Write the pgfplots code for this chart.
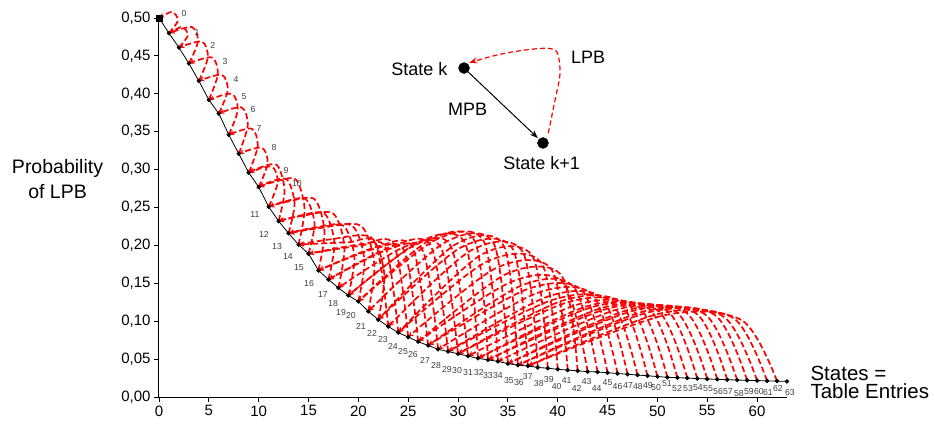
\documentclass[border=0pt]{standalone}
\usepackage{fontspec}
\setmainfont{Liberation Sans}
\usepackage{pgfplots}
\usepackage{pgfplotstable}
\pgfplotsset{compat=1.18}
\usetikzlibrary{arrows.meta}
\definecolor{lblgray}{RGB}{64,64,64}

\pgfplotstableread{
k p
0 0.500
1 0.480
2 0.461
3 0.440
4 0.417
5 0.392
6 0.374
7 0.346
8 0.321
9 0.296
10 0.277
11 0.251
12 0.232
13 0.216
14 0.201
15 0.189
16 0.167
17 0.155
18 0.144
19 0.134
20 0.126
21 0.113
22 0.102
23 0.093
24 0.085
25 0.079
26 0.073
27 0.068
28 0.063
29 0.060
30 0.057
31 0.054
32 0.051
33 0.049
34 0.047
35 0.044
36 0.042
37 0.041
38 0.039
39 0.038
40 0.0365
41 0.0355
42 0.0345
43 0.0335
44 0.033
45 0.032
46 0.031
47 0.030
48 0.029
49 0.028
50 0.027
51 0.026
52 0.0255
53 0.025
54 0.0243
55 0.0238
56 0.0233
57 0.0228
58 0.0224
59 0.022
60 0.0217
61 0.0213
62 0.021
63 0.0206
}\probtab

\pgfplotstableread{
x y lab
2.51 0.5053 0
3.81 0.4815 1
5.39 0.4644 2
6.62 0.4420 3
7.72 0.4195 4
8.53 0.3958 5
9.43 0.3799 6
10.03 0.3536 7
11.54 0.3298 8
12.74 0.2982 9
13.84 0.2810 10
9.63 0.2401 11
10.53 0.2150 12
11.84 0.1992 13
12.94 0.1847 14
14.04 0.1702 15
15.05 0.1491 16
16.45 0.1346 17
17.46 0.1227 18
18.26 0.1121 19
19.26 0.1069 20
20.26 0.0937 21
21.37 0.0844 22
22.47 0.0752 23
23.47 0.0673 24
24.48 0.0594 25
25.48 0.0567 26
26.69 0.0488 27
27.79 0.0422 28
28.89 0.0369 29
29.90 0.0343 30
31.0 0.0317 31
32.1 0.0317 32
33.0 0.0277 33
34.0 0.0290 34
35.1 0.0224 35
36.1 0.0185 36
37.0 0.0264 37
38.1 0.0172 38
39.1 0.0237 39
39.9 0.0145 40
40.9 0.0224 41
41.9 0.0119 42
42.9 0.0211 43
43.9 0.0106 44
45.0 0.0185 45
46.0 0.0132 46
47.05 0.0158 47
48.05 0.0132 48
49.05 0.0158 49
49.86 0.0119 50
50.96 0.0172 51
51.97 0.0106 52
53.07 0.0106 53
54.07 0.0119 54
55.08 0.0106 55
56.08 0.0079 56
57.08 0.0066 57
58.18 0.0040 58
59.18 0.0066 59
60.19 0.0066 60
61.09 0.0053 61
62.09 0.0106 62
63.3 0.0053 63
}\labtab

\pgfplotsset{lpb/.style={red, line width=1.7pt, dash pattern=on 6pt off 3pt, smooth, mark=none, -{Stealth[length=5.5pt,width=5pt]}}}
\newcommand{\lpb}[1]{\addplot[lpb] coordinates {#1};}

\begin{document}
\begin{tikzpicture}
\begin{axis}[
  scale only axis, width=628pt, height=379pt,
  xmin=0, xmax=63, ymin=0, ymax=0.5,
  axis x line*=bottom, axis y line*=left,
  xtick={0,5,10,15,20,25,30,35,40,45,50,55,60},
  ytick={0,0.05,0.1,0.15,0.2,0.25,0.3,0.35,0.4,0.45,0.5},
  tick align=outside, major tick length=5pt,
  tick style={black, line width=0.8pt},
  axis line style={black, line width=1pt},
  clip=false,
  /pgf/number format/assume math mode=true,
  yticklabel style={/pgf/number format/.cd, fixed, fixed zerofill, precision=2, use comma},
  ticklabel style={font=\fontsize{15}{18}\selectfont},
]
% LPB transitions
\lpb{(1,0.480) (1.9,0.4968) (1.3,0.508) (0,0.500)}
\lpb{(2,0.461) (2.9,0.4772) (2.3,0.488) (1,0.480)}
\lpb{(3,0.440) (3.9,0.4688) (3.3,0.488) (1,0.480)}
\lpb{(4,0.417) (4.9,0.4482) (4.3,0.469) (2,0.461)}
\lpb{(5,0.392) (5.9,0.4256) (5.3,0.448) (3,0.440)}
\lpb{(6,0.374) (6.9,0.4046) (6.3,0.425) (4,0.417)}
\lpb{(7,0.346) (7.9,0.3784) (7.3,0.400) (5,0.392)}
\lpb{(8,0.321) (8.9,0.3576) (8.3,0.382) (6,0.374)}
\lpb{(9,0.296) (9.9,0.3308) (9.3,0.354) (7,0.346)}
\lpb{(10,0.277) (10.9,0.3082) (10.3,0.329) (8,0.321)}
\lpb{(11,0.251) (11.9,0.2828) (11.3,0.304) (9,0.296)}
\lpb{(12,0.232) (12.6,0.2727) (11.84,0.306) (10.2,0.303) (9,0.296)}
\lpb{(13,0.216) (13.6,0.2551) (12.84,0.287) (11.2,0.284) (10,0.277)}
\lpb{(14,0.201) (14.6,0.2483) (13.72,0.287) (11.6,0.284) (10,0.277)}
\lpb{(15,0.189) (15.6,0.2286) (14.72,0.261) (12.6,0.258) (11,0.251)}
\lpb{(16,0.167) (16.6,0.2187) (15.6,0.261) (13,0.258) (11,0.251)}
\lpb{(17,0.155) (17.6,0.2029) (16.6,0.242) (14,0.239) (12,0.232)}
\lpb{(18,0.144) (18.6,0.1979) (17.48,0.242) (14.4,0.239) (12,0.232)}
\lpb{(19,0.134) (19.6,0.1846) (18.48,0.226) (15.4,0.223) (13,0.216)}
\lpb{(20,0.126) (20.6,0.1810) (19.36,0.226) (15.8,0.223) (13,0.216)}
\lpb{(21,0.113) (21.6,0.1752) (20.24,0.226) (16.2,0.223) (13,0.216)}
\lpb{(22,0.102) (22.6,0.1620) (21.24,0.211) (17.2,0.208) (14,0.201)}
\lpb{(23,0.093) (21.74,0.202) (18.95,0.204) (14,0.201)}
\lpb{(24,0.085) (22.74,0.197) (19.95,0.199) (15,0.189)}
\lpb{(25,0.079) (23.6,0.200) (20.5,0.202) (15,0.189)}
\lpb{(26,0.073) (24.6,0.193) (21.5,0.195) (16,0.167)}
\lpb{(27,0.068) (25.46,0.197) (22.05,0.199) (16,0.167)}
\lpb{(28,0.063) (26.46,0.193) (23.05,0.195) (17,0.155)}
\lpb{(29,0.060) (27.32,0.198) (23.6,0.200) (17,0.155)}
\lpb{(30,0.057) (28.32,0.196) (24.6,0.198) (18,0.144)}
\lpb{(31,0.054) (29.32,0.198) (25.6,0.200) (19,0.134)}
\lpb{(32,0.051) (30.7,0.203) (26.15,0.205) (19,0.134)}
\lpb{(33,0.049) (31.7,0.205) (27.15,0.207) (20,0.126)}
\lpb{(34,0.047) (32.6,0.205) (27.7,0.207) (20,0.126)}
\lpb{(35,0.044) (33.6,0.202) (28.7,0.204) (21,0.113)}
\lpb{(36,0.042) (34.6,0.199) (29.7,0.201) (22,0.102)}
\lpb{(37,0.041) (35.5,0.195) (30.25,0.197) (22,0.102)}
\lpb{(38,0.039) (36.5,0.191) (31.25,0.193) (23,0.093)}
\lpb{(39,0.038) (37.5,0.185) (32.25,0.187) (24,0.085)}
\lpb{(40,0.0365) (38.4,0.176) (32.8,0.178) (24,0.085)}
\lpb{(41,0.0355) (39.4,0.168) (33.8,0.170) (25,0.079)}
\lpb{(42,0.0345) (40.4,0.160) (34.8,0.162) (26,0.073)}
\lpb{(43,0.0335) (40.62,0.150) (35.35,0.152) (26,0.073)}
\lpb{(44,0.033) (41.62,0.145) (36.35,0.147) (27,0.068)}
\lpb{(45,0.032) (42.48,0.140) (36.9,0.142) (27,0.068)}
\lpb{(46,0.031) (43.48,0.135) (37.9,0.137) (28,0.063)}
\lpb{(47,0.030) (44.48,0.130) (38.9,0.132) (29,0.060)}
\lpb{(48,0.029) (45.34,0.126) (39.45,0.128) (29,0.060)}
\lpb{(49,0.028) (46.34,0.124) (40.45,0.127) (30,0.057)}
\lpb{(50,0.027) (47.2,0.121) (41,0.125) (30,0.057)}
\lpb{(51,0.026) (48.2,0.118) (42,0.122) (31,0.054)}
\lpb{(52,0.0255) (49.2,0.116) (43,0.120) (32,0.051)}
\lpb{(53,0.025) (50.06,0.114) (43.55,0.119) (32,0.051)}
\lpb{(54,0.0243) (51.06,0.113) (44.55,0.118) (33,0.049)}
\lpb{(55,0.0238) (51.92,0.112) (45.1,0.117) (33,0.049)}
\lpb{(56,0.0233) (52.92,0.111) (46.1,0.116) (34,0.047)}
\lpb{(57,0.0228) (53.92,0.110) (47.1,0.115) (35,0.044)}
\lpb{(58,0.0224) (54.78,0.109) (47.65,0.114) (35,0.044)}
\lpb{(59,0.022) (55.78,0.108) (48.65,0.113) (36,0.042)}
\lpb{(60,0.0217) (56.64,0.106) (49.2,0.112) (36,0.042)}
\lpb{(61,0.0213) (57.64,0.104) (50.2,0.110) (37,0.041)}
\lpb{(62,0.021) (58.5,0.101) (50.75,0.108) (37,0.041)}

% state curve
\addplot[black, line width=0.8pt, mark=*, mark size=1.8pt, mark options={solid}] table[x=k,y=p] {\probtab};
\addplot[only marks, mark=square*, mark size=3pt, black] coordinates {(0,0.5)};

% state numbers
\addplot[only marks, mark=none, nodes near coords, point meta=explicit symbolic,
  nodes near coords style={anchor=center, inner sep=0pt, text=lblgray, font=\fontsize{8.7}{9}\selectfont}]
  table[x=x,y=y,meta=lab] {\labtab};

% inset
\addplot[black, line width=1pt, mark=none, -{Stealth[length=8pt,width=6pt]}] coordinates {(30.6,0.434) (38.0,0.3417)};
\addplot[red, line width=1.2pt, dash pattern=on 5pt off 3pt, smooth, mark=none, -{Stealth[length=8pt,width=6pt]}]
  coordinates {(39.05,0.3479) (39.73,0.3918) (40.23,0.4270) (39.90,0.4555) (38.55,0.4600) (35.54,0.4555) (33.21,0.4489) (31.13,0.4410)};
\addplot[only marks, mark=*, mark size=5.5pt, black] coordinates {(30.6,0.434) (38.52,0.3351)};

\node[anchor=base east, font=\fontsize{18}{20}\selectfont] at (axis cs:29.29,0.4248) {State k};
\node[anchor=base, font=\fontsize{18}{20}\selectfont] at (axis cs:30.95,0.3720) {MPB};
\node[anchor=base, font=\fontsize{18}{20}\selectfont] at (axis cs:38.39,0.2995) {State k+1};
\node[anchor=base, font=\fontsize{18}{20}\selectfont] at (axis cs:43.04,0.4406) {LPB};

\node[anchor=base, font=\fontsize{19.5}{22}\selectfont] at (axis cs:-10.18,0.2942) {Probability};
\node[anchor=base, font=\fontsize{19.5}{22}\selectfont] at (axis cs:-10.18,0.2625) {of LPB};
\node[anchor=base west, font=\fontsize{20.5}{22}\selectfont] at (axis cs:65.01,0.0218) {States =};
\node[anchor=base west, font=\fontsize{20.5}{22}\selectfont] at (axis cs:65.01,-0.0026) {Table Entries};
\end{axis}
\pgfresetboundingbox
\path[use as bounding box] (-159pt,-29pt) rectangle (776pt,397pt);
\end{tikzpicture}
\end{document}
